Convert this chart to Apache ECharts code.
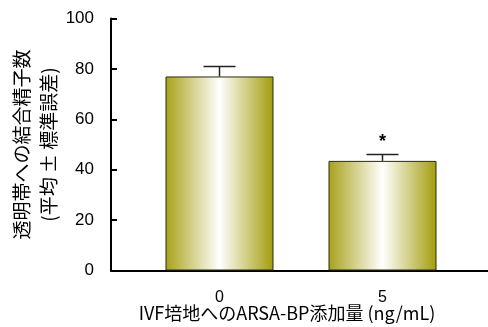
<!DOCTYPE html>
<html>
<head>
<meta charset="utf-8">
<script src="https://cdn.jsdelivr.net/npm/echarts@6/dist/echarts.min.js"></script>
<style>
  html, body { margin: 0; padding: 0; background: #fff; }
  #chart { width: 488px; height: 327px; }
</style>
</head>
<body>
<div id="chart"></div>
<script>
// Doses of ARSA-BP added to the IVF medium
const categories = ['0', '5'];
// Mean number of sperm bound to the zona pellucida
const means = [77, 43.5];
// Standard error of the mean
const sems = [4, 2.5];
// Significance markers
const marks = ['', '*'];
// Y-axis tick values
const yTicks = [0, 20, 40, 60, 80, 100];

const chart = echarts.init(document.getElementById('chart'));

const barFill = new echarts.graphic.LinearGradient(0, 0, 1, 0, [
  { offset: 0, color: '#a8a21a' },
  { offset: 0.5, color: '#ffffff' },
  { offset: 1, color: '#a39d0c' }
]);

const labelFont = '"Liberation Sans", Arial, sans-serif';
const cjkFont = '"Noto Sans CJK JP", sans-serif';

const errData = categories.map((c, i) => [i, means[i], sems[i], marks[i]]);

chart.setOption({
  animation: false,
  grid: [
    // axis frame
    { left: 111, right: 0, top: 18.5, bottom: 56.5, outerBoundsMode: 'none', containLabel: false },
    // bars
    { left: 138, right: 24, top: 18.5, bottom: 56.5, outerBoundsMode: 'none', containLabel: false }
  ],
  xAxis: [
    {
      gridIndex: 0, type: 'value', min: 0, max: 1,
      axisLine: { show: true, lineStyle: { color: '#000', width: 2 } },
      axisTick: { show: false }, axisLabel: { show: false }, splitLine: { show: false }
    },
    {
      gridIndex: 1, type: 'category', data: categories,
      axisLine: { show: false }, axisTick: { show: false }, splitLine: { show: false },
      axisLabel: { color: '#000', fontSize: 16, fontFamily: labelFont, margin: 19 }
    }
  ],
  yAxis: [
    {
      gridIndex: 0, type: 'value', min: yTicks[0], max: yTicks[yTicks.length - 1],
      interval: yTicks[1] - yTicks[0], offset: 9,
      axisLine: { show: true, lineStyle: { color: '#000', width: 2 } },
      axisTick: { show: true, inside: true, length: 6, lineStyle: { color: '#000', width: 2 } },
      axisLabel: { color: '#000', fontSize: 17, fontFamily: labelFont, margin: 8 },
      splitLine: { show: false },
      name: '透明帯への結合精子数\n(平均 ± 標準誤差)',
      nameLocation: 'middle', nameRotate: 90, nameGap: 39.5, nameMoveOverlap: false,
      nameTextStyle: { color: '#000', fontSize: 19, fontFamily: cjkFont, lineHeight: 27 }
    },
    {
      gridIndex: 1, type: 'value', min: yTicks[0], max: yTicks[yTicks.length - 1],
      show: false
    }
  ],
  title: {
    text: 'IVF培地へのARSA-BP添加量 (ng/mL)',
    left: 282, top: 299, textAlign: 'center',
    textStyle: { color: '#000', fontSize: 18, fontWeight: 'normal', fontFamily: cjkFont }
  },
  series: [
    {
      type: 'bar', xAxisIndex: 1, yAxisIndex: 1,
      data: means, barWidth: 108,
      itemStyle: { color: barFill, borderColor: '#2b2a10', borderWidth: 1 }
    },
    {
      type: 'custom', xAxisIndex: 1, yAxisIndex: 1,
      data: errData,
      z: 5,
      renderItem: function (params, api) {
        const x = api.value(0);
        const mean = api.value(1);
        const err = api.value(2);
        const mark = errData[params.dataIndex][3];
        const top = api.coord([x, mean + err]);
        const base = api.coord([x, mean]);
        const cap = 16;
        const style = { stroke: '#222', lineWidth: 1.5 };
        const children = [
          { type: 'line', shape: { x1: top[0], y1: base[1], x2: top[0], y2: top[1] }, style: style },
          { type: 'line', shape: { x1: top[0] - cap, y1: top[1], x2: top[0] + cap, y2: top[1] }, style: style }
        ];
        if (mark) {
          children.push({
            type: 'text',
            style: {
              text: mark, x: top[0], y: top[1] - 4,
              align: 'center', verticalAlign: 'bottom',
              fill: '#000', font: 'bold 18px ' + labelFont
            }
          });
        }
        return { type: 'group', children: children };
      }
    }
  ]
});
</script>
</body>
</html>
